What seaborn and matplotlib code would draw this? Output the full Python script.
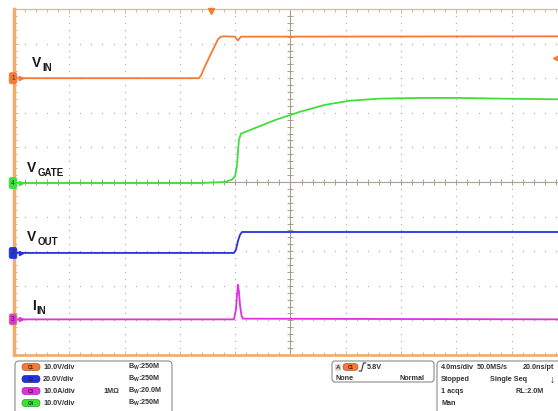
import numpy as np
import pandas as pd
import matplotlib.pyplot as plt
from matplotlib.patches import FancyBboxPatch
from matplotlib.ticker import MultipleLocator
import seaborn as sns

# time in ms from the left edge of the screen (4.0 ms/div)
t_vin = [0, 13.38, 13.53, 13.82, 14.18, 14.54, 14.76, 14.97, 15.19, 15.99, 16.13, 16.2, 16.31, 16.42, 39.35]
v_vin = [0, 0, 0.8, 3.5, 6.5, 9.5, 11.3, 12.0, 12.1, 12.0, 11.2, 10.9, 11.5, 12.0, 12.1]

t_gate = [0, 13.45, 15.26, 15.77, 15.99, 16.13, 16.2, 16.27, 16.42, 17.07, 18.88, 20.69,
          22.49, 24.30, 26.47, 29.36, 32.26, 35.15, 39.35]
v_gate = [0, 0, 0.3, 1.0, 2.0, 5.0, 9.0, 12.5, 14.3, 15.3, 18.2, 20.6,
          22.6, 23.8, 24.4, 24.6, 24.6, 24.4, 24.2]

t_out = [0, 15.91, 16.06, 16.2, 16.35, 16.49, 39.35]
v_out = [0, 0, 2.0, 7.0, 10.5, 12.1, 12.1]

t_iin = [0, 15.91, 16.06, 16.13, 16.2, 16.27, 16.35, 16.46, 16.56, 39.35]
a_iin = [0, 0, 3.0, 7.0, 10.0, 8.0, 4.0, 1.0, 0.2, 0]

# channel settings: scale per division and ground position (divisions from bottom)
channels = ['C1', 'C2', 'C3', 'C4']
scales = {'C1': 10.0, 'C2': 20.0, 'C3': 10.0, 'C4': 10.0}
offsets = {'C1': 8.0, 'C2': 2.95, 'C3': 1.03, 'C4': 4.97}
colors = {'C1': '#f47a36', 'C2': '#2233dd', 'C3': '#e030e0', 'C4': '#3ee03a'}
names = {'C1': ('V', 'IN'), 'C2': ('V', 'OUT'), 'C3': ('I', 'IN'), 'C4': ('V', 'GATE')}
scale_labels = ['10.0V/div', '20.0V/div', '10.0A/div', '10.0V/div']
bw_labels = ['250M', '250M', '20.0M', '250M']
trig_level = 5.8
trig_time = 14.25

W, H = 558, 411
sns.set_style('white')
plt.rcParams['font.family'] = ['Liberation Sans', 'DejaVu Sans']

traces = {'C1': (t_vin, v_vin), 'C2': (t_out, v_out), 'C3': (t_iin, a_iin), 'C4': (t_gate, v_gate)}
rows = []
for ch, (tt, vv) in traces.items():
    for t, v in zip(tt, vv):
        rows.append({'t': t, 'div': offsets[ch] + v / scales[ch], 'ch': ch})
df = pd.DataFrame(rows)

fig = plt.figure(figsize=(W / 100, H / 100), dpi=100)
fig.patch.set_facecolor('white')

# graticule: left 14px, top 9px, bottom 355px, 55.3 px/div x, 34.6 px/div y
ax = fig.add_axes([14 / W, (H - 355) / H, (W - 14) / W, 346 / H])
xmax = (W - 14) / 55.3 * 4
ax.set_xlim(0, xmax)
ax.set_ylim(0, 10)
ax.set_facecolor('white')

grid_c = '#bdb4a3'
for k in range(1, 10):
    if k == 5:
        continue
    ys = np.arange(0, 10.01, 0.2)
    ax.plot([k * 4] * len(ys), ys, ls='none', marker='o', ms=1.0, mew=0, color=grid_c, zorder=1)
    xs = np.arange(0, xmax, 0.8)
    ax.plot(xs, [k] * len(xs), ls='none', marker='o', ms=1.0, mew=0, color=grid_c, zorder=1)

cross_c = '#a89e8c'
ax.axhline(5, color=cross_c, lw=0.8, zorder=1)
ax.axvline(20, color=cross_c, lw=0.8, zorder=1)
xs = np.arange(0, xmax, 0.8)
ax.plot(xs, [5] * len(xs), ls='none', marker='|', ms=4.5, mew=0.7, color=cross_c, zorder=1)
ys = np.arange(0, 10.01, 0.2)
ax.plot([20] * len(ys), ys, ls='none', marker='_', ms=4.5, mew=0.7, color=cross_c, zorder=1)

sns.lineplot(data=df, x='t', y='div', hue='ch', palette=colors, estimator=None,
             linewidth=1.3, legend=False, ax=ax, zorder=3)
ax.set_xlabel('')
ax.set_ylabel('')

ax.xaxis.set_major_locator(MultipleLocator(4))
ax.xaxis.set_minor_locator(MultipleLocator(0.8))
ax.yaxis.set_major_locator(MultipleLocator(1))
ax.yaxis.set_minor_locator(MultipleLocator(0.2))
ax.tick_params(which='both', direction='in', top=True, bottom=True, left=True, right=False,
               labelbottom=False, labelleft=False, color='#c4b8a0', width=0.7)
ax.tick_params(which='major', length=3)
ax.tick_params(which='minor', length=2.2)
ax.spines['right'].set_visible(False)
ax.spines['top'].set_color('#cbbd9f')
ax.spines['top'].set_linewidth(0.9)
ax.spines['left'].set_color('#f2ac6a')
ax.spines['left'].set_linewidth(2.5)
ax.spines['bottom'].set_color('#eeb070')
ax.spines['bottom'].set_linewidth(2.0)

# channel ground markers
for i, ch in enumerate(channels):
    ax.text(-0.07, offsets[ch], str(i + 1), fontsize=4.8, ha='center', va='center', color='#333',
            clip_on=False, zorder=6,
            bbox=dict(boxstyle='round,pad=0.3', fc=colors[ch], ec='#d0884a' if ch == 'C3' else colors[ch], lw=0.6))
    ax.plot([0.5], [offsets[ch]], marker='>', ms=3, color=colors[ch], clip_on=False, zorder=6)

# trigger markers
ax.plot([trig_time], [9.93], marker='v', ms=5, color='#f47a36', clip_on=False, zorder=6)
ax.plot([xmax - 0.15], [offsets['C1'] + trig_level / scales['C1']], marker='<', ms=4.5,
        color='#f47a36', clip_on=False, zorder=6)

# trace names
lab_pos = {'C1': (32, 67), 'C4': (27, 172), 'C2': (27, 241), 'C3': (32, 310)}
for ch in channels:
    main, sub = names[ch]
    x0, yb = lab_pos[ch]
    fig.text(x0 / W, 1 - yb / H, main, fontsize=10, fontweight='bold', color='#1a1a1a', va='baseline')
    sx = x0 + (10.5 if main == 'V' else 4.5)
    fig.text(sx / W, 1 - (yb + 3.5) / H, sub, fontsize=7, fontweight='bold', color='#1a1a1a', va='baseline')

# status panel (pixel coordinates)
ov = fig.add_axes([0, 0, 1, 1], zorder=10)
ov.set_xlim(0, W)
ov.set_ylim(H, 0)
ov.axis('off')
ov.patch.set_alpha(0)

box_ec = '#8c8c8c'
ov.add_patch(FancyBboxPatch((15, 361), 157, 60, boxstyle='round,pad=0,rounding_size=4',
                            fc='none', ec=box_ec, lw=0.8))
ov.add_patch(FancyBboxPatch((332, 361), 102, 21, boxstyle='round,pad=0,rounding_size=3',
                            fc='none', ec=box_ec, lw=0.8))
ov.add_patch(FancyBboxPatch((437, 361), 140, 60, boxstyle='round,pad=0,rounding_size=4',
                            fc='none', ec=box_ec, lw=0.8))

txt = dict(fontsize=5.2, fontweight='bold', color='#333333', va='center')
pill_ec = {'C1': '#b85a2a', 'C2': '#1a2899', 'C3': '#a020a0', 'C4': '#2a9a2a'}
row_y = [367, 379, 391, 403]
for i, ch in enumerate(channels):
    y = row_y[i]
    ov.add_patch(FancyBboxPatch((22, y - 3.5), 18, 7, boxstyle='round,pad=0,rounding_size=3.5',
                                fc=colors[ch], ec=pill_ec[ch], lw=0.5))
    ov.text(31, y, ch, fontsize=3.3, fontweight='bold', color='#222', ha='center', va='center')
    ov.text(43, y, scale_labels[i], **txt)
    ov.text(128, y, r'$\mathregular{B_W}$:' + bw_labels[i], **txt)
ov.text(103, row_y[2], '1MΩ', **txt)

# trigger box
ov.add_patch(FancyBboxPatch((335, 363.5), 6, 7, boxstyle='square,pad=0', fc='#d8d8d8', ec='none'))
ov.text(338, 367, 'A', fontsize=4.5, fontweight='bold', color='#333', ha='center', va='center')
ov.add_patch(FancyBboxPatch((343, 363.5), 15, 7, boxstyle='round,pad=0,rounding_size=3.5',
                            fc=colors['C1'], ec=pill_ec['C1'], lw=0.5))
ov.text(350.5, 367, 'C1', fontsize=3.3, fontweight='bold', color='#222', ha='center', va='center')
ov.plot([359, 361.5, 363.5, 366], [371, 371, 363, 363], color='#333', lw=0.8)
ov.text(367, 367, '%.1fV' % trig_level, **txt)
ov.text(335, 378, 'None', **txt)
ov.text(400, 378, 'Normal', **txt)

# acquisition box
ov.text(441, 367, '4.0ms/div', **txt)
ov.text(477, 367, '50.0MS/s', **txt)
ov.text(523, 367, '20.0ns/pt', **txt)
ov.text(441, 379, 'Stopped', **txt)
ov.text(490, 379, 'Single Seq', **txt)
ov.text(552, 380, '↓', fontsize=7, fontweight='bold', color='#222', va='center', ha='center')
ov.text(441, 391, '1 acqs', **txt)
ov.text(515, 391, 'RL:2.0M', **txt)
ov.text(441, 403, 'Man', **txt)

fig.savefig('out.png', dpi=100)
